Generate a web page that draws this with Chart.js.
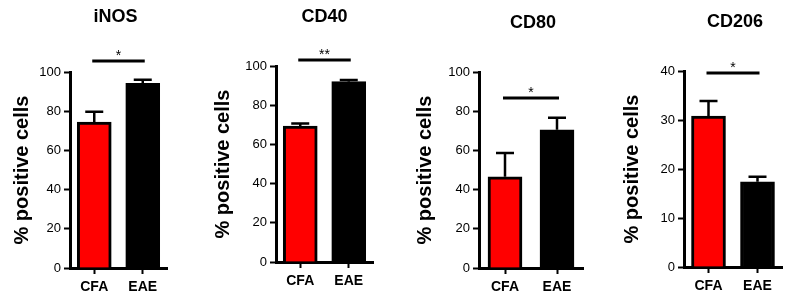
<!DOCTYPE html>
<html>
<head>
<meta charset="utf-8">
<script src="https://cdn.jsdelivr.net/npm/chart.js@4/dist/chart.umd.min.js"></script>
<style>
    body { margin: 0; background: #fff; width: 795px; height: 296px; position: relative; overflow: hidden; }
    .panel { position: absolute; top: 0; height: 296px; }
</style>
</head>
<body>
<div class="panel" id="p0"><canvas id="c0"></canvas></div>
<div class="panel" id="p1"><canvas id="c1"></canvas></div>
<div class="panel" id="p2"><canvas id="c2"></canvas></div>
<div class="panel" id="p3"><canvas id="c3"></canvas></div>
<script>
const groups = ['CFA', 'EAE'];
const markers = ['iNOS', 'CD40', 'CD80', 'CD206'];

const iNOSMeans = [74.5, 94.2];
const iNOSErrors = [5.2, 1.8];
const cd40Means = [69.3, 92.0];
const cd40Errors = [1.4, 0.8];
const cd80Means = [46.5, 70.5];
const cd80Errors = [12.2, 6.1];
const cd206Means = [30.8, 17.4];
const cd206Errors = [3.1, 1.0];

const axisMax = [100, 100, 100, 40];
const axisStep = [20, 20, 20, 10];
const sigLevel = [105.6, 103.1, 86.7, 39.6];
const sigLabel = ['*', '**', '*', '*'];

const means = [iNOSMeans, cd40Means, cd80Means, cd206Means];
const errors = [iNOSErrors, cd40Errors, cd80Errors, cd206Errors];

// where each small chart sits on the page
const panels = [
    { left: 0,   width: 200, axisX: 70,  plotRight: 167, plotTop: 72, plotBottom: 268, titleY: 17, titleDx: -3, yTitlePad: 10 },
    { left: 200, width: 200, axisX: 276, plotRight: 373, plotTop: 66, plotBottom: 262, titleY: 17, titleDx: 0,  yTitlePad: 11 },
    { left: 400, width: 200, axisX: 479, plotRight: 583, plotTop: 72, plotBottom: 268, titleY: 23, titleDx: 2,  yTitlePad: 13 },
    { left: 600, width: 195, axisX: 684, plotRight: 782, plotTop: 71, plotBottom: 267, titleY: 22, titleDx: 2,  yTitlePad: 20 }
];

const FONT = '"Liberation Sans", Arial, sans-serif';

const extras = {
    id: 'extras',
    afterDraw(chart, args, opts) {
        const ctx = chart.ctx;
        const y = chart.scales.y;
        const bars = chart.getDatasetMeta(0).data;
        const area = chart.chartArea;

        ctx.save();
        ctx.strokeStyle = '#000';
        ctx.fillStyle = '#000';

        // error bars (upper only)
        ctx.lineWidth = 2.5;
        bars.forEach((bar, i) => {
            const top = y.getPixelForValue(opts.means[i] + opts.errors[i]);
            ctx.beginPath();
            ctx.moveTo(bar.x, bar.y);
            ctx.lineTo(bar.x, top);
            ctx.moveTo(bar.x - 9, top);
            ctx.lineTo(bar.x + 9, top);
            ctx.stroke();
        });

        // significance line + stars
        const sy = y.getPixelForValue(opts.sig);
        ctx.lineWidth = 3;
        ctx.beginPath();
        ctx.moveTo(bars[0].x - 2, sy);
        ctx.lineTo(bars[1].x + 2, sy);
        ctx.stroke();
        ctx.font = '14px ' + FONT;
        ctx.textAlign = 'center';
        ctx.textBaseline = 'alphabetic';
        ctx.fillText(opts.stars, (bars[0].x + bars[1].x) / 2, sy - 1);

        // panel title
        ctx.font = 'bold 18px ' + FONT;
        ctx.textBaseline = 'middle';
        ctx.fillText(opts.title, (area.left + area.right) / 2 + opts.titleDx, opts.titleY);
        ctx.restore();
    }
};

panels.forEach((p, k) => {
    const box = document.getElementById('p' + k);
    box.style.left = p.left + 'px';
    box.style.width = p.width + 'px';

    new Chart(document.getElementById('c' + k), {
        type: 'bar',
        data: {
            labels: groups,
            datasets: [{
                data: means[k],
                backgroundColor: ['#ff0000', '#000000'],
                borderColor: '#000',
                borderWidth: 3,
                barThickness: 34
            }]
        },
        options: {
            responsive: true,
            maintainAspectRatio: false,
            animation: false,
            events: [],
            layout: {
                padding: { top: p.plotTop, right: p.left + p.width - p.plotRight, left: 0, bottom: 0 }
            },
            plugins: {
                legend: { display: false },
                tooltip: { enabled: false },
                extras: {
                    means: means[k],
                    errors: errors[k],
                    sig: sigLevel[k],
                    stars: sigLabel[k],
                    title: markers[k],
                    titleY: p.titleY,
                    titleDx: p.titleDx
                }
            },
            scales: {
                x: {
                    grid: { drawOnChartArea: false, offset: false, tickLength: 6, tickWidth: 2, tickColor: '#000' },
                    border: { display: true, color: '#000', width: 3 },
                    ticks: { color: '#000', padding: 5, font: { family: FONT, size: 14, weight: 'bold' } },
                    afterFit(s) { s.height = 296 - p.plotBottom; }
                },
                y: {
                    min: 0,
                    max: axisMax[k],
                    ticks: { stepSize: axisStep[k], color: '#000', padding: 3, font: { family: FONT, size: 13 } },
                    grid: { drawOnChartArea: false, tickLength: 6, tickWidth: 2, tickColor: '#000' },
                    border: { display: true, color: '#000', width: 3 },
                    title: {
                        display: true,
                        text: '% positive cells',
                        color: '#000',
                        padding: { top: p.yTitlePad, bottom: 0 },
                        font: { family: FONT, size: 20, weight: 'bold' }
                    },
                    afterFit(s) { s.width = p.axisX - p.left; }
                }
            }
        },
        plugins: [extras]
    });
});
</script>
</body>
</html>
